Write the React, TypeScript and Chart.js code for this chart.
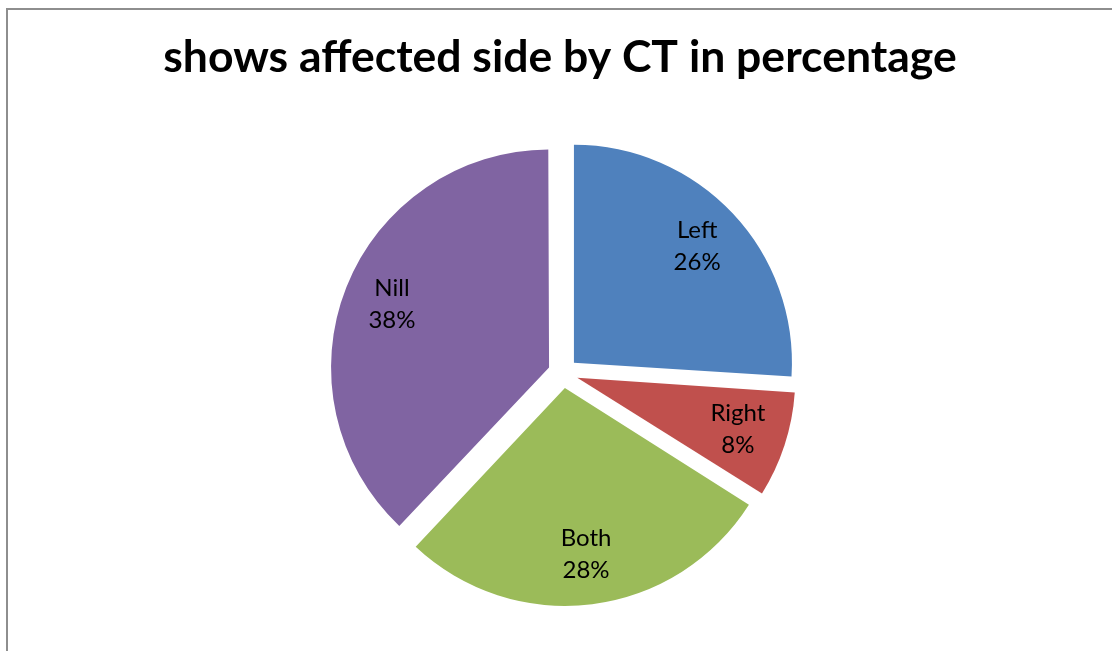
import React, { useEffect, useRef } from "react";
import { Chart, registerables } from "chart.js";

Chart.register(...registerables);

const TITLE = "shows affected side by CT in percentage";
const categories = ["Left", "Right", "Both", "Nill"];
const percentages = [26, 8, 28, 38];
const sliceColors = ["#4F81BD", "#C0504D", "#9BBB59", "#8064A2"];

const EXPLODE = 15;
const RADIUS = 218;
const LABEL_FACTOR = 0.775;

export default function App() {
  const ref = useRef<HTMLCanvasElement>(null);

  useEffect(() => {
    const canvas = ref.current!;

    const equalRadius = {
      id: "equalRadius",
      beforeDatasetsDraw(chart: any) {
        const meta = chart.getDatasetMeta(0);
        const base = meta.controller.outerRadius;
        meta.data.forEach((arc: any) => {
          const fix = 1 - Math.sin(Math.min(Math.PI, arc.circumference));
          arc.outerRadius = base - EXPLODE * fix;
        });
      },
    };

    const labels = {
      id: "sliceLabels",
      afterDatasetsDraw(chart: any) {
        const ctx = chart.ctx;
        const meta = chart.getDatasetMeta(0);
        const base = meta.controller.outerRadius;
        ctx.save();
        ctx.fillStyle = "#000";
        ctx.font = "24px Lato, 'Open Sans', sans-serif";
        ctx.textAlign = "center";
        ctx.textBaseline = "alphabetic";
        meta.data.forEach((arc: any, i: number) => {
          const mid = (arc.startAngle + arc.endAngle) / 2;
          const d = EXPLODE + LABEL_FACTOR * base;
          const lx = arc.x + Math.cos(mid) * d;
          const ly = arc.y + Math.sin(mid) * d;
          ctx.fillText(categories[i], lx, ly - 9);
          ctx.fillText(percentages[i] + "%", lx, ly + 23);
        });
        ctx.restore();
      },
      afterDraw(chart: any) {
        const ctx = chart.ctx;
        ctx.save();
        ctx.fillStyle = "#000";
        ctx.font = "bold 44.5px Lato, 'Open Sans', sans-serif";
        ctx.textAlign = "center";
        ctx.textBaseline = "alphabetic";
        ctx.fillText(TITLE, 560, 72);
        ctx.restore();
      },
    };

    const chart = new Chart(canvas, {
      type: "pie",
      data: {
        labels: categories,
        datasets: [
          {
            data: percentages,
            backgroundColor: sliceColors,
            borderWidth: 0,
            offset: EXPLODE * 4,
            radius: RADIUS,
          } as any,
        ],
      },
      options: {
        responsive: false,
        animation: false,
        devicePixelRatio: 1,
        layout: { padding: { left: 14, right: 0, top: 95, bottom: 0 } },
        plugins: {
          legend: { display: false },
          tooltip: { enabled: false },
          title: { display: false },
        },
      },
      plugins: [equalRadius, labels],
    });

    return () => chart.destroy();
  }, []);

  return (
    <div
      style={{
        position: "fixed",
        left: 0,
        top: 0,
        width: 1112,
        height: 651,
        overflow: "hidden",
        background: "#fff",
      }}
    >
      <div
        style={{
          position: "absolute",
          left: 6,
          top: 8,
          width: 1200,
          height: 700,
          border: "2px solid #8e8e8e",
        }}
      />
      <canvas
        ref={ref}
        width={1112}
        height={651}
        style={{ position: "absolute", left: 0, top: 0, width: 1112, height: 651 }}
      />
    </div>
  );
}
